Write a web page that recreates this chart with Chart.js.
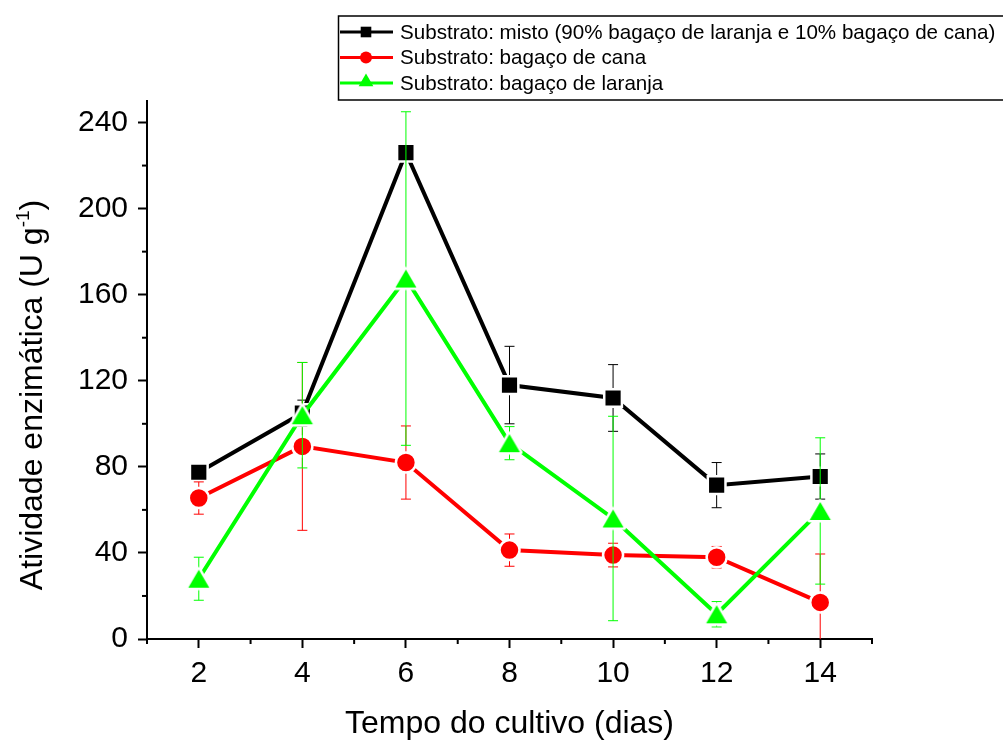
<!DOCTYPE html>
<html>
<head>
<meta charset="utf-8">
<script src="https://cdn.jsdelivr.net/npm/chart.js@4.4.0/dist/chart.umd.min.js"></script>
<style>
html, body { margin: 0; background: #fff; }
#wrap { width: 1003px; height: 740px; position: relative; }
</style>
</head>
<body>
<div id="wrap"><canvas id="chart"></canvas></div>
<script>
const dias = [2, 4, 6, 8, 10, 12, 14];
const misto = [77.5, 105, 226, 118, 112, 71.5, 75.5];
const mistoErr = [2, 6, 2.5, 18, 15.5, 10.5, 10.5];
const cana = [65.5, 89.5, 82, 41.3, 39, 38, 17];
const canaErr = [7.5, 39, 17, 7.5, 5.5, 5, 22.5];
const laranja = [28, 104, 167.5, 91, 56, 11.5, 59.5];
const laranjaErr = [10, 24.5, 77.5, 7.7, 47.5, 5.9, 34];
const seriesNames = [
  'Substrato: misto (90% bagaço de laranja e 10% bagaço de cana)',
  'Substrato: bagaço de cana',
  'Substrato: bagaço de laranja'
];
const xTickLabels = [2, 4, 6, 8, 10, 12, 14];
const yTickLabels = [0, 40, 80, 120, 160, 200, 240];
const xTitle = 'Tempo do cultivo (dias)';
const yTitle = 'Atividade enzimática (U g';
const yTitleSup = '-1';

const FONT = "'Liberation Sans', Arial, sans-serif";
Chart.defaults.font.family = FONT;

const toPoints = vals => vals.map((v, i) => ({ x: dias[i], y: v }));
const errList = [mistoErr, canaErr, laranjaErr];
const isMajor = (list, v) => list.some(l => Math.abs(l - v) < 1e-6);

// triângulo centrado na caixa, com contorno branco (como no Origin)
function triangleImage(color) {
  const c = document.createElement('canvas');
  c.width = 34; c.height = 34;
  const g = c.getContext('2d');
  const cx = 17, cy = 17, hw = 10.5, hh = 9.1;
  g.beginPath();
  g.moveTo(cx, cy - hh); g.lineTo(cx + hw, cy + hh); g.lineTo(cx - hw, cy + hh); g.closePath();
  g.lineJoin = 'round';
  g.lineWidth = 5;
  g.strokeStyle = '#fff';
  g.stroke();
  g.fillStyle = color;
  g.fill();
  return c;
}

// barras de erro desenhadas antes de cada série
const errorBars = {
  id: 'errorBars',
  beforeDatasetDraw(chart, args) {
    const errs = errList[args.index];
    if (!errs) return;
    const { ctx, chartArea: a } = chart;
    const ys = chart.scales.y;
    const ds = chart.data.datasets[args.index];
    ctx.save();
    ctx.beginPath();
    ctx.rect(a.left, a.top, a.right - a.left, a.bottom - a.top);
    ctx.clip();
    ctx.strokeStyle = ds.borderColor;
    ctx.lineWidth = 1;
    args.meta.data.forEach((pt, i) => {
      const v = ds.data[i].y;
      const hi = ys.getPixelForValue(v + errs[i]);
      const lo = ys.getPixelForValue(v - errs[i]);
      ctx.beginPath();
      ctx.moveTo(pt.x, hi); ctx.lineTo(pt.x, lo);
      ctx.moveTo(pt.x - 5, hi); ctx.lineTo(pt.x + 5, hi);
      ctx.moveTo(pt.x - 5, lo); ctx.lineTo(pt.x + 5, lo);
      ctx.stroke();
    });
    ctx.restore();
  }
};

// ticks menores, títulos dos eixos e legenda
const extras = {
  id: 'extras',
  afterDraw(chart) {
    const { ctx, chartArea: a } = chart;
    const xs = chart.scales.x, ys = chart.scales.y;
    ctx.save();
    ctx.strokeStyle = '#000';
    ctx.lineWidth = 2;
    xs.ticks.forEach(t => {
      if (isMajor(xTickLabels, t.value)) return;
      const px = xs.getPixelForValue(t.value);
      ctx.beginPath(); ctx.moveTo(px, a.bottom); ctx.lineTo(px, a.bottom + 5); ctx.stroke();
    });
    ys.ticks.forEach(t => {
      if (isMajor(yTickLabels, t.value)) return;
      const py = ys.getPixelForValue(t.value);
      ctx.beginPath(); ctx.moveTo(a.left, py); ctx.lineTo(a.left - 5, py); ctx.stroke();
    });

    ctx.fillStyle = '#000';
    ctx.font = '32px ' + FONT;
    ctx.textAlign = 'center';
    ctx.textBaseline = 'alphabetic';
    ctx.fillText(xTitle, (a.left + a.right) / 2, 733);

    ctx.save();
    ctx.translate(42, 395);
    ctx.rotate(-Math.PI / 2);
    ctx.textAlign = 'left';
    ctx.font = '32px ' + FONT;
    const w1 = ctx.measureText(yTitle).width;
    const w3 = ctx.measureText(')').width;
    ctx.font = '19px ' + FONT;
    const w2 = ctx.measureText(yTitleSup).width;
    const x0 = -(w1 + w2 + w3) / 2;
    ctx.font = '32px ' + FONT;
    ctx.fillText(yTitle, x0, 0);
    ctx.font = '19px ' + FONT;
    ctx.fillText(yTitleSup, x0 + w1, -13);
    ctx.font = '32px ' + FONT;
    ctx.fillText(')', x0 + w1 + w2, 0);
    ctx.restore();

    // legenda
    ctx.strokeStyle = '#000';
    ctx.lineWidth = 1.5;
    ctx.strokeRect(338.5, 16, 680, 84);
    ctx.font = '20.6px ' + FONT;
    ctx.textAlign = 'left';
    ctx.textBaseline = 'middle';
    const legendStyle = ['rect', 'circle', 'triangle'];
    const legendSize = [7.5, 6, 8.5];
    chart.data.datasets.forEach((ds, i) => {
      const y = 32 + i * 25.5;
      ctx.strokeStyle = ds.borderColor;
      ctx.lineWidth = 3;
      ctx.beginPath(); ctx.moveTo(340, y); ctx.lineTo(393, y); ctx.stroke();
      ctx.fillStyle = ds.borderColor;
      Chart.helpers.drawPoint(ctx, { pointStyle: legendStyle[i], radius: legendSize[i], borderWidth: 0, rotation: 0 }, 366, i === 2 ? y - 1 : y);
      ctx.fillStyle = '#000';
      ctx.fillText(seriesNames[i], 400, y + 1);
    });
    ctx.restore();
  }
};

const serie = (label, vals, color, style, radius, order) => ({
  label,
  data: toPoints(vals),
  borderColor: color,
  backgroundColor: color,
  borderWidth: 4,
  pointStyle: style,
  pointRadius: radius,
  pointHoverRadius: radius,
  pointBackgroundColor: color,
  pointBorderColor: '#fff',
  pointBorderWidth: 2.5,
  tension: 0,
  order
});

new Chart(document.getElementById('chart'), {
  type: 'line',
  data: {
    datasets: [
      serie(seriesNames[0], misto, '#000000', 'rect', 12.5, 3),
      serie(seriesNames[1], cana, '#ff0000', 'circle', 10, 2),
      serie(seriesNames[2], laranja, '#00ff00', triangleImage('#00ff00'), 14, 1)
    ]
  },
  options: {
    responsive: true,
    maintainAspectRatio: false,
    animation: false,
    layout: { padding: { top: 101, right: 131, left: 0, bottom: 0 } },
    plugins: { legend: { display: false }, tooltip: { enabled: false } },
    scales: {
      x: {
        type: 'linear',
        min: 1,
        max: 15,
        afterFit: s => { s.height = 101; },
        afterBuildTicks: s => {
          const t = [];
          for (let v = 1; v <= 15; v++) t.push({ value: v });
          s.ticks = t;
        },
        ticks: {
          autoSkip: false, maxRotation: 0, padding: 8, color: '#000',
          font: { size: 30 },
          callback: v => isMajor(xTickLabels, v) ? String(Math.round(v)) : ''
        },
        grid: {
          drawOnChartArea: false, tickLength: 9, tickWidth: 2,
          tickColor: c => isMajor(xTickLabels, c.tick.value) ? '#000' : 'rgba(0,0,0,0)'
        },
        border: { color: '#000', width: 2 }
      },
      y: {
        min: 0,
        max: 250,
        afterFit: s => { s.width = 147; },
        afterBuildTicks: s => {
          const t = [];
          for (let v = 0; v <= 240; v += 20) t.push({ value: v });
          s.ticks = t;
        },
        ticks: {
          autoSkip: false, padding: 10, color: '#000',
          font: { size: 30 },
          callback: v => isMajor(yTickLabels, v) ? String(Math.round(v)) : ''
        },
        grid: {
          drawOnChartArea: false, tickLength: 9, tickWidth: 2,
          tickColor: c => isMajor(yTickLabels, c.tick.value) ? '#000' : 'rgba(0,0,0,0)'
        },
        border: { color: '#000', width: 2 }
      }
    }
  },
  plugins: [errorBars, extras]
});
</script>
</body>
</html>
